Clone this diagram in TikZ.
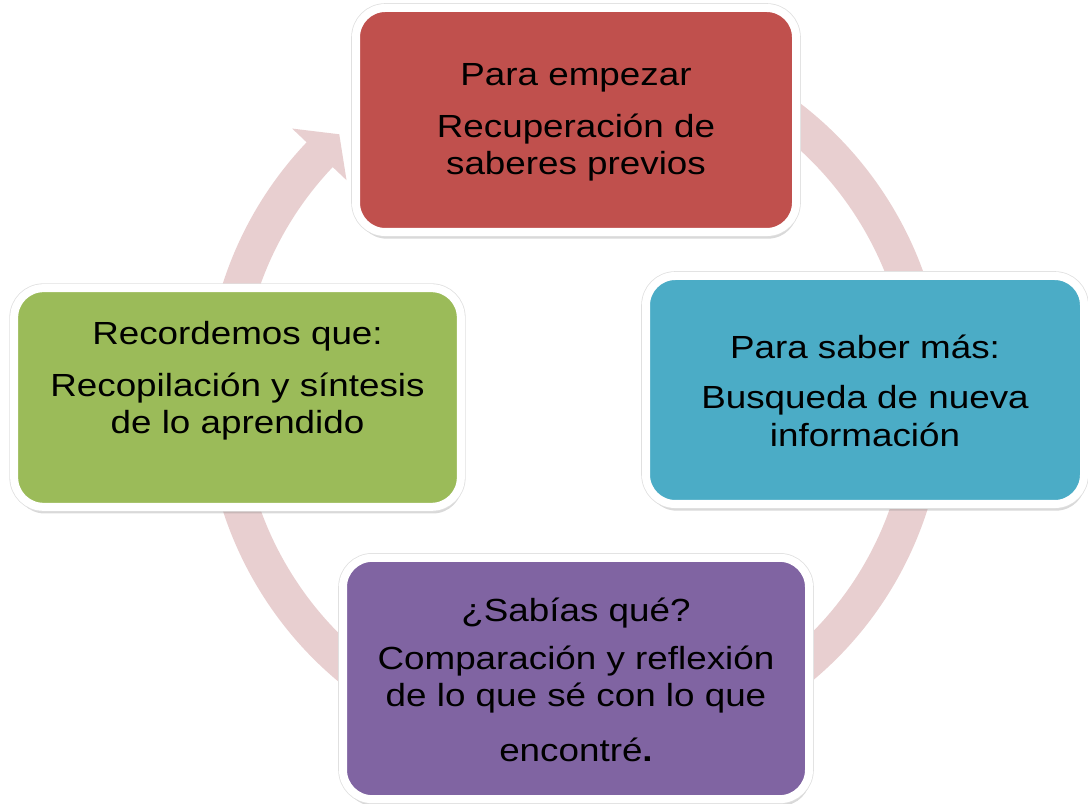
\documentclass[tikz,border=0pt]{standalone}
\usepackage{fontspec}
\setmainfont{Liberation Sans}[FakeStretch=1.15]
\usetikzlibrary{shadows,calc}

\definecolor{rojo}{RGB}{192,80,77}
\definecolor{azul}{RGB}{75,172,198}
\definecolor{verde}{RGB}{155,187,89}
\definecolor{morado}{RGB}{128,100,162}
\definecolor{anillo}{RGB}{232,207,208}

\begin{document}
\begin{tikzpicture}[
  x=0.75pt, y=0.75pt,
  box/.style={rectangle, rounded corners=22pt, draw=white, line width=6pt,
    drop shadow={opacity=0.3, shadow xshift=1pt, shadow yshift=-5pt},
    preaction={draw=black!12, line width=7.2pt}},
  txt/.style={align=center, inner sep=0pt, font=\fontsize{24}{28}\selectfont},
  ring/.style={draw=anillo, line width=27pt}
]
\useasboundingbox (0,0) rectangle (1088,803);
\coordinate (hub) at (575,406);

% Ring behind the boxes
\draw[ring] (hub) ++(122:264pt) arc[start angle=122, end angle=-224, radius=264pt];
\coordinate (barbout) at ($(hub)+(136.5:292.5pt)$);
\coordinate (barbin) at ($(hub)+(136.5:236.25pt)$);
\coordinate (tip) at ($(hub)+(131.9:264.75pt)$);
\fill[anillo] (barbout) -- (tip) -- (barbin) -- cycle;

% Boxes
\node[box, fill=rojo, minimum width=330pt, minimum height=168pt] (empezar) at (576,683) {};
\node[box, fill=azul, minimum width=328.5pt, minimum height=171pt] (saber) at (865,413) {};
\node[box, fill=morado, minimum width=349.5pt, minimum height=181pt] (sabias) at (576,124.5) {};
\node[box, fill=verde, minimum width=335pt, minimum height=164pt] (recordemos) at (237.5,405.5) {};

% Texts
\node[txt] (empezar-txt) at (576,681) {Para empezar\\[11pt]Recuperación de\\saberes previos};
\node[txt] (saber-txt) at (865,412.5) {Para saber más:\\[10pt]Busqueda de nueva\\información};
\node[txt] (sabias-txt) at (576,123) {¿Sabías qué?\\[8pt]Comparación y reflexión\\de lo que sé con lo que\\[13pt]encontré\textbf{.}};
\node[txt] (recordemos-txt) at (237.5,422) {Recordemos que:\\[11pt]Recopilación y síntesis\\de lo aprendido};

\end{tikzpicture}
\end{document}
